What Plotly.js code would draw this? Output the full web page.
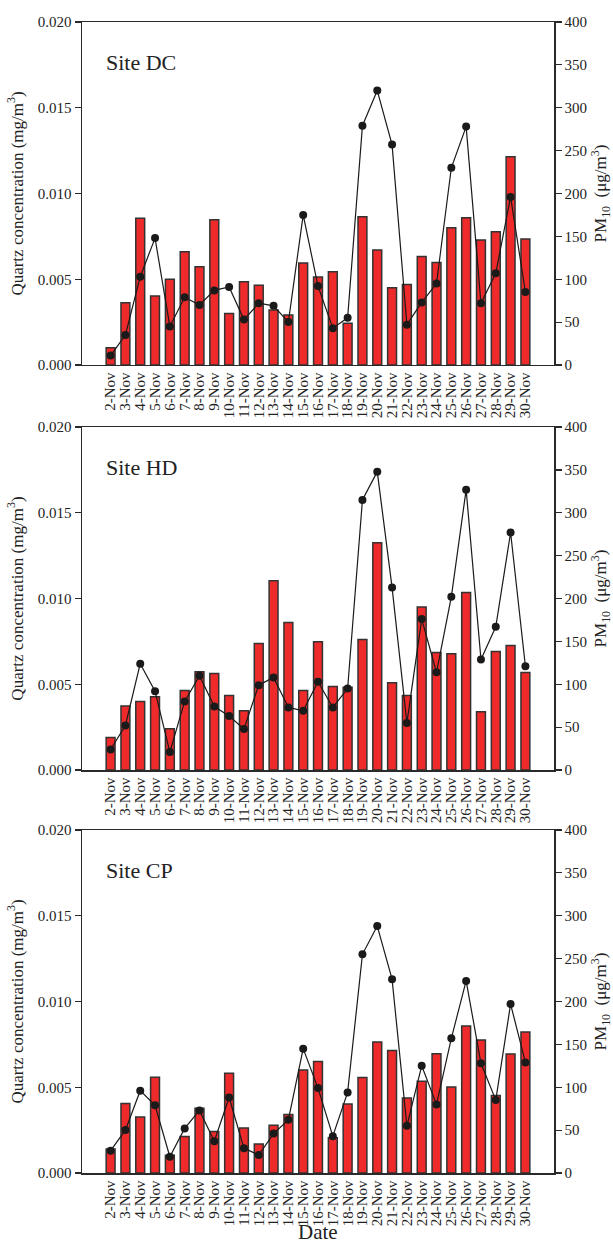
<!DOCTYPE html>
<html>
<head>
<meta charset="utf-8">
<script src="https://cdn.plot.ly/plotly-3.0.1.min.js"></script>
<style>html,body{margin:0;padding:0;background:#fff;}#chart{width:613px;height:1245px;}</style>
</head>
<body>
<div id="chart"></div>
<script>
const dates = ['2-Nov','3-Nov','4-Nov','5-Nov','6-Nov','7-Nov','8-Nov','9-Nov','10-Nov','11-Nov','12-Nov','13-Nov','14-Nov','15-Nov','16-Nov','17-Nov','18-Nov','19-Nov','20-Nov','21-Nov','22-Nov','23-Nov','24-Nov','25-Nov','26-Nov','27-Nov','28-Nov','29-Nov','30-Nov'];

const siteNames = ['Site DC','Site HD','Site CP'];

const quartzDC = [0.00101,0.00363,0.00855,0.00402,0.0050,0.00661,0.00573,0.00847,0.00301,0.00486,0.00465,0.00321,0.00292,0.00595,0.00513,0.00544,0.00243,0.00865,0.00671,0.00451,0.0047,0.00632,0.00597,0.0080,0.00859,0.00729,0.00777,0.01215,0.00735];
const pm10DC = [11,35,103,148,45,79,70,87,91,53,72,69,50,175,92,43,55,279,320,257,47,73,95,230,278,72,107,196,85];

const quartzHD = [0.0019,0.00373,0.0040,0.00427,0.00241,0.00464,0.00573,0.00563,0.00435,0.00346,0.00738,0.01103,0.0086,0.00464,0.00748,0.00487,0.00483,0.00761,0.01326,0.00509,0.00435,0.00951,0.00685,0.00678,0.01035,0.0034,0.00691,0.00726,0.00569];
const pm10HD = [24,52,124,92,21,80,110,74,63,48,99,108,73,69,103,73,95,315,348,213,55,176,114,202,327,129,167,277,121];

const quartzCP = [0.0014,0.00405,0.00326,0.00559,0.00103,0.00213,0.00378,0.00242,0.00582,0.00262,0.00169,0.00279,0.00341,0.0060,0.0065,0.00206,0.00402,0.00557,0.00764,0.00714,0.00438,0.00535,0.00696,0.00502,0.00857,0.00776,0.00452,0.00694,0.00822];
const pm10CP = [26,50,96,79,19,52,73,37,88,29,21,46,62,145,99,43,94,255,288,226,55,125,80,157,224,128,85,197,129];

const quartzTicks = [0, 0.005, 0.010, 0.015, 0.020];
const pm10Ticks = [0, 50, 100, 150, 200, 250, 300, 350, 400];

const quartzSets = [quartzDC, quartzHD, quartzCP];
const pm10Sets = [pm10DC, pm10HD, pm10CP];

const domains = [[0.702, 1.0], [0.3501, 0.6481], [0.0, 0.298]];
const FONT = 'Liberation Serif, Times New Roman, serif';
const AX = '#2a2a2a';

const traces = [];
const layout = {
  width: 613, height: 1245,
  margin: {l: 82, r: 59, t: 22, b: 72},
  paper_bgcolor: '#fff', plot_bgcolor: '#fff',
  font: {family: FONT, color: '#222', size: 15},
  showlegend: false,
  bargap: 0.40,
  annotations: [{
    text: 'Date', xref: 'paper', yref: 'paper', x: 0.5, y: -0.0515,
    xanchor: 'center', yanchor: 'middle', showarrow: false,
    font: {size: 21, family: FONT, color: '#222'}
  }]
};

for (let i = 0; i < 3; i++) {
  const xn = i === 0 ? '' : String(i + 1);
  const yn = i === 0 ? '' : String(i + 1);
  const yr = String(i + 4);
  traces.push({
    type: 'bar', x: dates, y: quartzSets[i],
    xaxis: 'x' + xn, yaxis: 'y' + yn,
    marker: {color: '#ee2a2a', line: {color: '#333', width: 1.5}},
    hoverinfo: 'x+y'
  });
  traces.push({
    type: 'scatter', mode: 'lines+markers', x: dates, y: pm10Sets[i],
    xaxis: 'x' + xn, yaxis: 'y' + yr,
    line: {color: '#1a1a1a', width: 1.2},
    marker: {color: '#1a1a1a', size: 8},
    hoverinfo: 'x+y'
  });
  layout['xaxis' + xn] = {
    domain: [0, 1], anchor: 'y' + yn, type: 'category',
    tickmode: 'array', tickvals: dates, ticktext: dates,
    tickangle: -90, ticks: '', showline: true, mirror: true,
    linecolor: AX, linewidth: 1.5, showgrid: false, zeroline: false,
    tickfont: {size: 15, family: FONT, color: '#222'},
    automargin: false
  };
  layout['yaxis' + yn] = {
    domain: domains[i], anchor: 'x' + xn, range: [0, 0.02],
    tickvals: quartzTicks, tickformat: '.3f',
    ticks: 'outside', ticklen: 6, tickwidth: 1.2, tickcolor: AX,
    showline: true, linecolor: AX, linewidth: 1.5,
    showgrid: false, zeroline: false, automargin: false,
    tickfont: {size: 15, family: FONT, color: '#222'},
    title: {text: 'Quartz concentration (mg/m<sup>3</sup>)', font: {size: 17, family: FONT, color: '#222'}, standoff: 10}
  };
  layout['yaxis' + yr] = {
    overlaying: 'y' + yn, side: 'right', anchor: 'x' + xn, range: [0, 400],
    tickvals: pm10Ticks,
    ticks: 'outside', ticklen: 6, tickwidth: 1.2, tickcolor: AX,
    showline: true, linecolor: AX, linewidth: 1.5,
    showgrid: false, zeroline: false, automargin: false,
    tickfont: {size: 15, family: FONT, color: '#222'},
    title: {text: 'PM<sub>10</sub>  (μg/m<sup>3</sup>)', font: {size: 17, family: FONT, color: '#222'}, standoff: 8}
  };
  layout.annotations.push({
    text: siteNames[i], xref: 'x' + xn + ' domain', yref: 'y' + yn + ' domain',
    x: 0.047, y: 0.883, xanchor: 'left', yanchor: 'middle', showarrow: false,
    font: {size: 22, family: FONT, color: '#222'}
  });
}

Plotly.newPlot('chart', traces, layout, {displayModeBar: false, staticPlot: true});
</script>
</body>
</html>
